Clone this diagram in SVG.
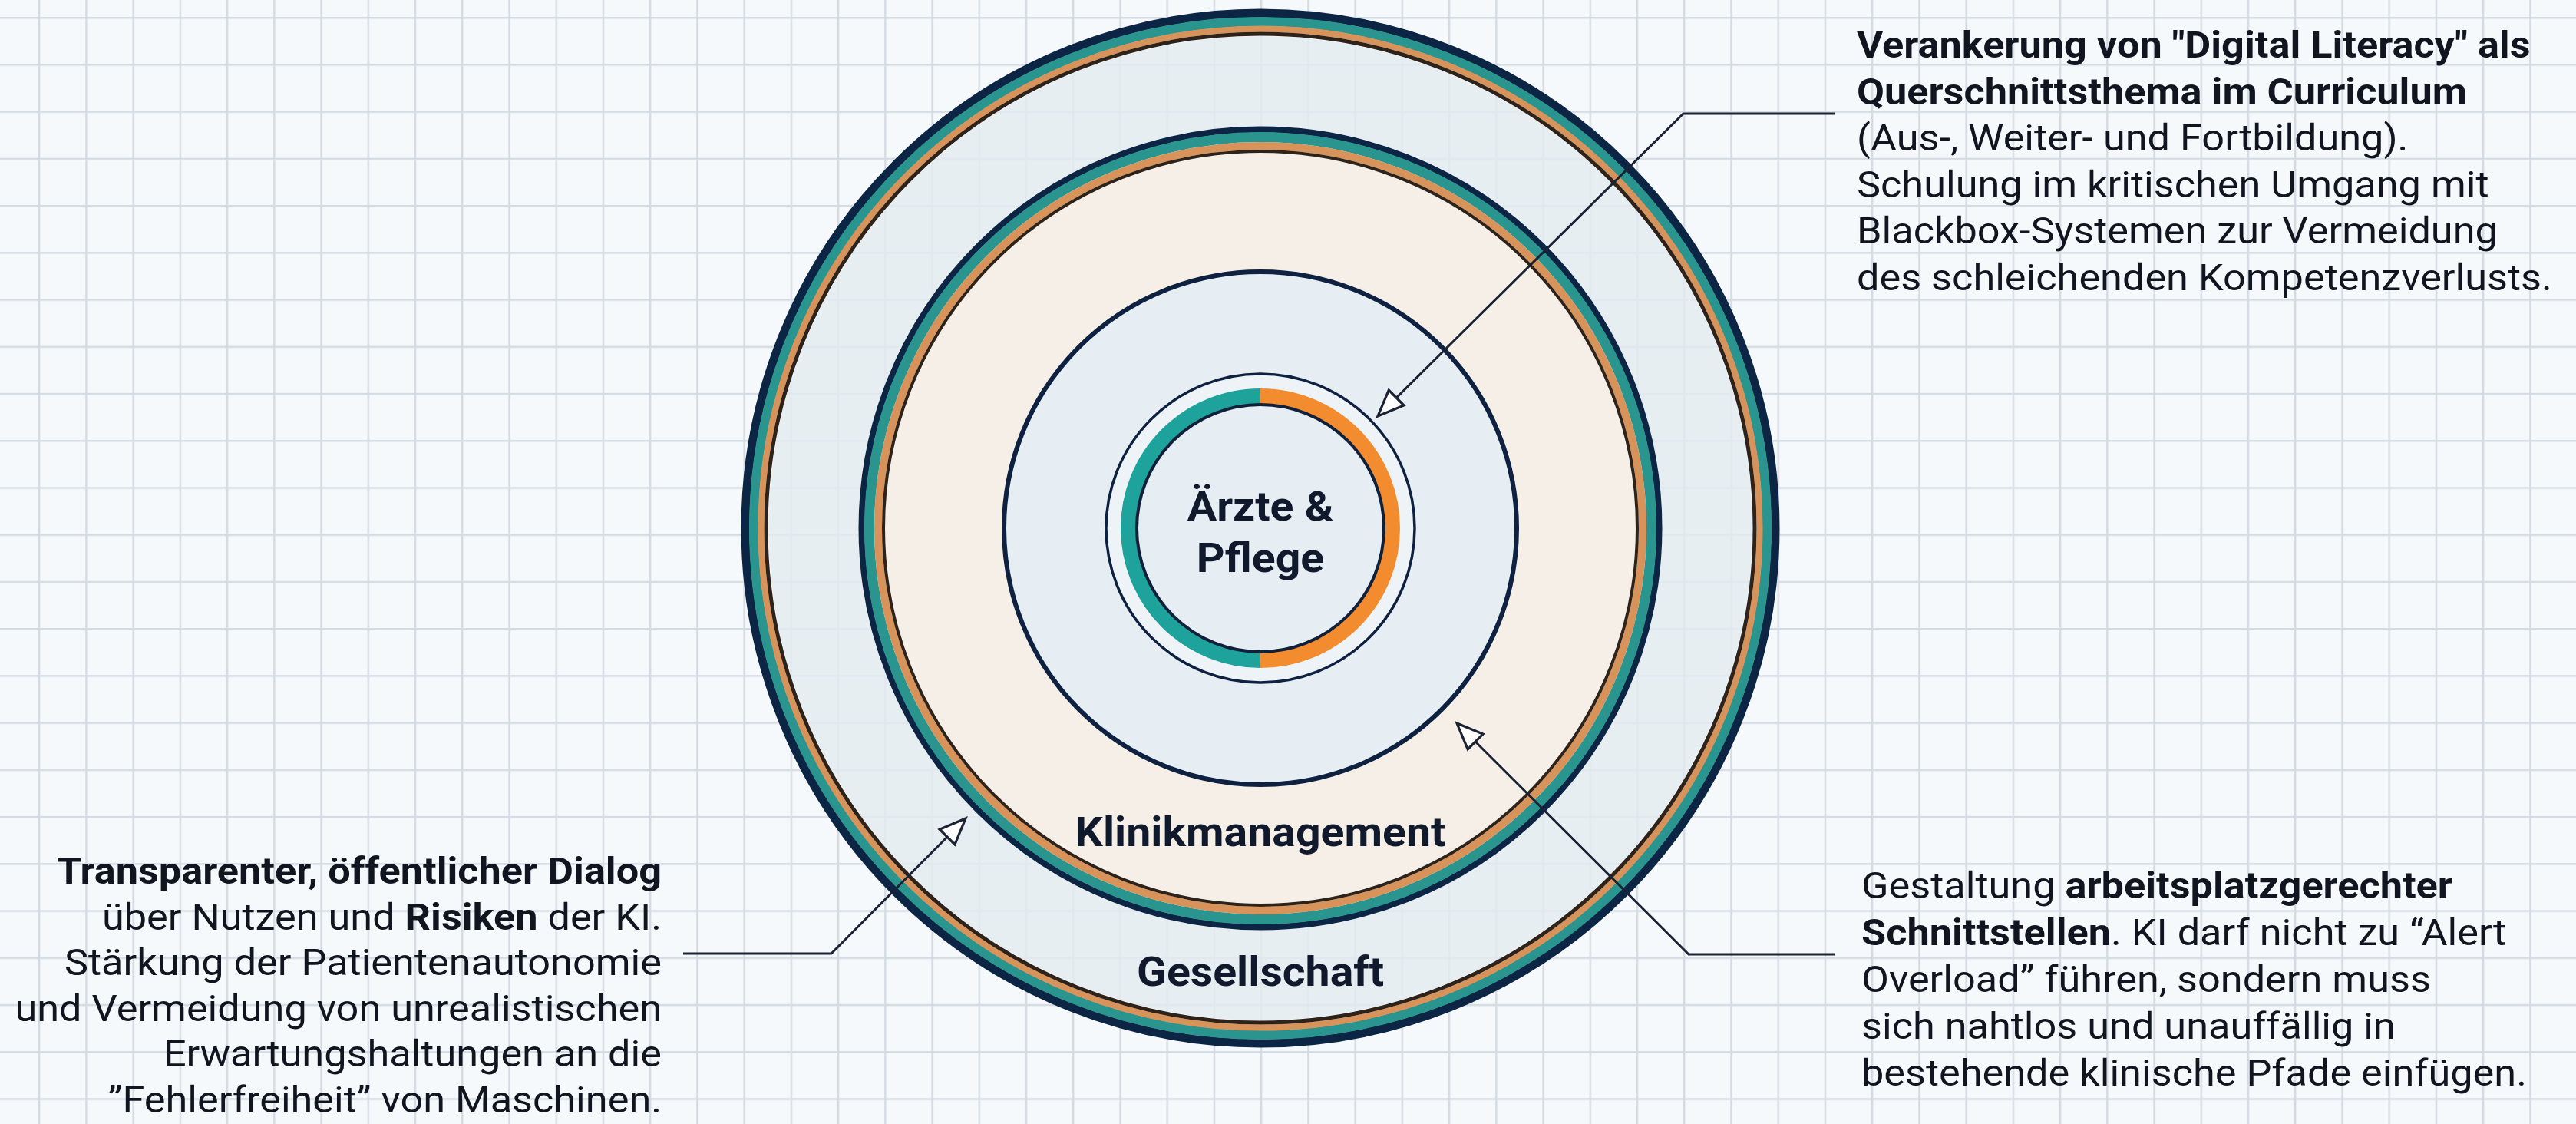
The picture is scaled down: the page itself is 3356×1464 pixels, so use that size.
<svg xmlns="http://www.w3.org/2000/svg" width="3356" height="1464" viewBox="0 0 3356 1464">
  <defs>
    <pattern id="grid" x="50" y="22" width="61.23" height="61.23" patternUnits="userSpaceOnUse">
      <path d="M1.2 0 V61.23 M0 1.2 H61.23" fill="none" stroke="#d4dbe3" stroke-width="2.4"/>
    </pattern>
    <marker id="openArrow" markerUnits="userSpaceOnUse" markerWidth="44" markerHeight="40" viewBox="-40 -20 44 40" refX="0" refY="0" orient="auto">
      <path d="M0 0 L-34 -14 L-34 14 Z" fill="#ffffff" stroke="#1a2233" stroke-width="3.2" stroke-linejoin="miter"/>
    </marker>
    <style>
      .txt { font-family: Roboto, "Liberation Sans", sans-serif; font-size: 47.5px; fill: #10151f; }
      .b { font-weight: 700; }
      .lbl { font-family: Roboto, "Liberation Sans", sans-serif; font-size: 54px; font-weight: 700; fill: #111a2c; text-anchor: middle; }
      .navy { fill: none; stroke: #0d2545; }
      .teal { fill: none; stroke: #2a958f; }
      .orng { fill: none; stroke: #d8935a; }
      .dark { fill: none; stroke: #2e2219; }
      .conn { fill: none; stroke: #1a2233; stroke-width: 3; marker-end: url(#openArrow); }
    </style>
  </defs>

  <g id="background">
    <rect x="0" y="0" width="3356" height="1464" fill="#f6f9fb"/>
    <rect x="0" y="0" width="3356" height="1464" fill="url(#grid)"/>
  </g>

  <g id="ring-gesellschaft">
    <circle cx="1642" cy="688" r="641" fill="#e3ebf0" fill-opacity="0.8"/>
    <circle class="navy" cx="1642" cy="688" r="671" stroke-width="11"/>
    <circle class="teal" cx="1642" cy="688" r="660" stroke-width="12"/>
    <circle class="orng" cx="1642" cy="688" r="650.5" stroke-width="8"/>
    <circle class="dark" cx="1642" cy="688" r="644" stroke-width="5"/>
    <text class="lbl" transform="translate(1642 1284) scale(1.06 1)" x="0" y="0">Gesellschaft</text>
  </g>

  <g id="ring-klinikmanagement">
    <circle cx="1642" cy="688" r="489" fill="#f7efe5" fill-opacity="0.88"/>
    <circle class="navy" cx="1642" cy="688" r="519.5" stroke-width="8"/>
    <circle class="teal" cx="1642" cy="688" r="509.5" stroke-width="13"/>
    <circle class="orng" cx="1642" cy="688" r="498" stroke-width="10"/>
    <circle class="dark" cx="1642" cy="688" r="491" stroke-width="4"/>
    <text class="lbl" transform="translate(1642 1102) scale(1.06 1)" x="0" y="0">Klinikmanagement</text>
  </g>

  <g id="ring-inner">
    <circle cx="1642" cy="688" r="334" fill="#e6eef3" stroke="#0e2140" stroke-width="6"/>
  </g>

  <g id="node-aerzte-pflege">
    <circle cx="1642" cy="688" r="201" fill="#edf3f6" stroke="#0e2140" stroke-width="3.5"/>
    <circle cx="1642" cy="688" r="162" fill="#e6eef3"/>
    <path d="M1642 516 A172 172 0 0 0 1642 860" fill="none" stroke="#1ea39c" stroke-width="20"/>
    <path d="M1642 516 A172 172 0 0 1 1642 860" fill="none" stroke="#f28c2e" stroke-width="20"/>
    <circle cx="1642" cy="688" r="161" fill="none" stroke="#10203a" stroke-width="4"/>
    <text class="lbl" transform="translate(1642 678) scale(1.06 1)" x="0" y="0">Ärzte &amp;</text>
    <text class="lbl" transform="translate(1642 745) scale(1.06 1)" x="0" y="0">Pflege</text>
  </g>

  <g id="connectors">
    <polyline class="conn" points="2390,148 2193,148 1795,542"/>
    <polyline class="conn" points="2390,1243 2200,1243 1898,942"/>
    <polyline class="conn" points="890,1242 1083,1242 1258,1066"/>
  </g>

  <g id="text-curriculum" transform="translate(2419 0) scale(1.1 1)">
    <text class="txt b" x="0" y="75">Verankerung von "Digital Literacy" als</text>
    <text class="txt b" x="0" y="136">Querschnittsthema im Curriculum</text>
    <text class="txt" x="0" y="196">(Aus-, Weiter- und Fortbildung).</text>
    <text class="txt" x="0" y="257">Schulung im kritischen Umgang mit</text>
    <text class="txt" x="0" y="317">Blackbox-Systemen zur Vermeidung</text>
    <text class="txt" x="0" y="378">des schleichenden Kompetenzverlusts.</text>
  </g>

  <g id="text-dialog" transform="translate(862 0) scale(1.1 1)">
    <text class="txt b" x="0" y="1151" text-anchor="end">Transparenter, öffentlicher Dialog</text>
    <text class="txt" x="0" y="1211" text-anchor="end">über Nutzen und <tspan class="b">Risiken</tspan> der KI.</text>
    <text class="txt" x="0" y="1270" text-anchor="end">Stärkung der Patientenautonomie</text>
    <text class="txt" x="0" y="1330" text-anchor="end">und Vermeidung von unrealistischen</text>
    <text class="txt" x="0" y="1389" text-anchor="end">Erwartungshaltungen an die</text>
    <text class="txt" x="0" y="1449" text-anchor="end">”Fehlerfreiheit” von Maschinen.</text>
  </g>

  <g id="text-schnittstellen" transform="translate(2425 0) scale(1.1 1)">
    <text class="txt" x="0" y="1170">Gestaltung <tspan class="b">arbeitsplatzgerechter</tspan></text>
    <text class="txt" x="0" y="1231"><tspan class="b">Schnittstellen</tspan>. KI darf nicht zu “Alert</text>
    <text class="txt" x="0" y="1292">Overload” führen, sondern muss</text>
    <text class="txt" x="0" y="1353">sich nahtlos und unauffällig in</text>
    <text class="txt" x="0" y="1414">bestehende klinische Pfade einfügen.</text>
  </g>
</svg>
